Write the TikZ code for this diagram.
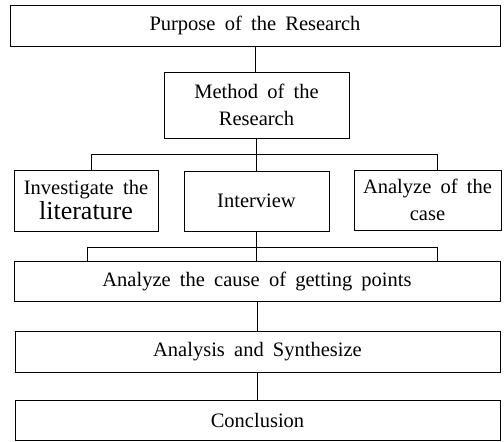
\documentclass[tikz,border=0pt]{standalone}
\usepackage{fontspec}
\setmainfont{Liberation Serif}[WordSpace=1.8]
\tikzset{
    box/.style={draw, line width=.7pt, inner sep=0pt, align=center,
        font=\fontsize{20.5}{27}\selectfont},
    link/.style={-, line width=.7pt}
}
\begin{document}
\begin{tikzpicture}[x=1pt, y=-1pt]
                \useasboundingbox (0,0) rectangle (504,442);
                \node[box, minimum width=490pt, minimum height=41pt] (purpose) at (255,25.5) {Purpose of the Research};
                \node[box, minimum width=185pt, minimum height=66pt] (method) at (256.5,105) {Method of the\\Research};
                \node[box, minimum width=144pt, minimum height=61pt] (invest) at (86,200.5) {Investigate the\\[-2pt]{\fontsize{26}{28}\selectfont literature}};
                \node[box, minimum width=145pt, minimum height=60pt] (interview) at (256.5,201) {Interview};
                \node[box, minimum width=147pt, minimum height=60pt] (caseb) at (427.5,200) {Analyze of the\\case};
                \node[box, minimum width=486pt, minimum height=40pt] (cause) at (257,281) {Analyze the cause of getting points};
                \node[box, minimum width=485pt, minimum height=41pt] (synth) at (257.5,351.5) {Analysis and Synthesize};
                \node[box, minimum width=485pt, minimum height=40pt] (concl) at (257.5,420) {Conclusion};
                % upper bus
                \coordinate (upL) at (91,154);
                \coordinate (upR) at (437,154);
                % lower bus
                \coordinate (loL) at (87,247);
                \coordinate (loR) at (437,247);
                \draw[link] (purpose.south) -- (purpose.south |- method.north);
                \draw[link] (method.south) -- (interview.north);
                \draw[link] (upL |- invest.north) -- (upL) -- (upR) -- (upR |- caseb.north);
                \draw[link] (interview.south) -- (interview.south |- cause.north);
                \draw[link] (loL |- cause.north) -- (loL) -- (loR) -- (loR |- cause.north);
                \draw[link] (cause.south) -- (cause.south |- synth.north);
                \draw[link] (synth.south) -- (synth.south |- concl.north);
            \end{tikzpicture}
\end{document}
